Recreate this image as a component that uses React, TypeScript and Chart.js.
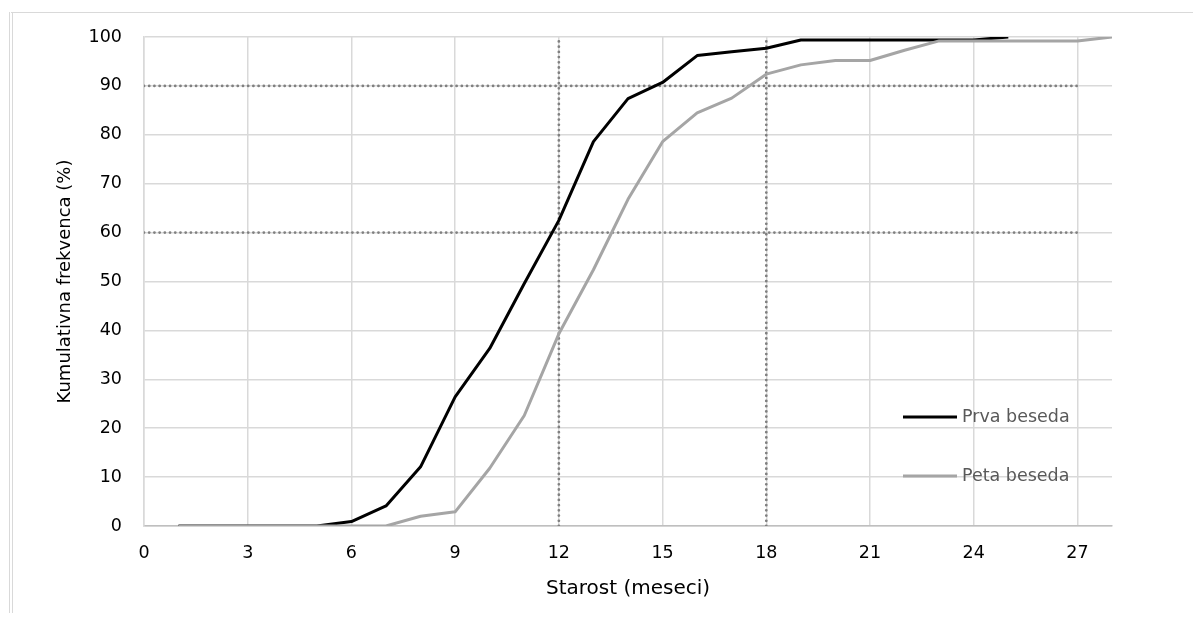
import React, { useEffect, useRef } from "react";
import { Chart, registerables } from "chart.js";

Chart.register(...registerables);

const months = [1, 2, 3, 4, 5, 6, 7, 8, 9, 10, 11, 12, 13, 14, 15, 16, 17, 18, 19, 20, 21, 22, 23, 24, 25, 26, 27, 28];
const prvaBeseda = [0, 0, 0, 0, 0, 0.9, 4.1, 12.1, 26.4, 36.3, 49.6, 62.5, 78.6, 87.4, 90.7, 96.2, 97.0, 97.7, 99.4, 99.4, 99.4, 99.4, 99.4, 99.4, 100, null, null, null];
const petaBeseda = [0, 0, 0, 0, 0, 0, 0, 2.0, 2.9, 11.8, 22.6, 39.3, 52.4, 66.8, 78.6, 84.5, 87.5, 92.4, 94.3, 95.2, 95.2, 97.3, 99.2, 99.2, 99.2, 99.2, 99.2, 100];
const seriesNames = ["Prva beseda", "Peta beseda"];
const seriesColors = ["#000000", "#a5a5a5"];

const refHorizontal = [60, 90];
const refVertical = [12, 18];
const refXRange = [0, 27];
const refYRange = [0, 100];

const xTickStep = 3;
const xMin = 0;
const xMax = 28;
const yMin = 0;
const yMax = 100;
const yTickStep = 10;

const xTitle = "Starost (meseci)";
const yTitle = "Kumulativna frekvenca (%)";

const FONT = "'DejaVu Sans', 'Open Sans', sans-serif";

const legendPlugin = {
  id: "insideLegend",
  afterDatasetsDraw(chart: any) {
    const { ctx, chartArea } = chart;
    const x0 = chartArea.right - 209;
    const ys = [chartArea.bottom - 109, chartArea.bottom - 50];
    ctx.save();
    seriesNames.forEach((name, i) => {
      const y = ys[i];
      ctx.strokeStyle = seriesColors[i];
      ctx.lineWidth = 3;
      ctx.lineCap = "butt";
      ctx.beginPath();
      ctx.moveTo(x0, y);
      ctx.lineTo(x0 + 54, y);
      ctx.stroke();
      ctx.fillStyle = "#595959";
      ctx.font = `17.5px ${FONT}`;
      ctx.textBaseline = "middle";
      ctx.textAlign = "left";
      ctx.fillText(name, x0 + 59, y);
    });
    ctx.restore();
  },
};

export default function App() {
  const canvasRef = useRef<HTMLCanvasElement | null>(null);

  useEffect(() => {
    if (!canvasRef.current) return;
    const dotted = {
      borderColor: "#808080",
      borderWidth: 2.8,
      borderDash: [0.01, 5.2],
      borderCapStyle: "round" as const,
      pointRadius: 0,
      fill: false,
      tension: 0,
      order: 2,
    };
    const refSets: any[] = [];
    refHorizontal.forEach((v) => {
      refSets.push({
        ...dotted,
        label: "ref-h-" + v,
        data: refXRange.map((x) => ({ x, y: v })),
      });
    });
    refVertical.forEach((v) => {
      refSets.push({
        ...dotted,
        label: "ref-v-" + v,
        data: refYRange.map((y) => ({ x: v, y })),
      });
    });

    const chart = new Chart(canvasRef.current, {
      type: "line",
      data: {
        datasets: [
          {
            label: seriesNames[1],
            data: months.map((m, i) => ({ x: m, y: petaBeseda[i] })),
            borderColor: seriesColors[1],
            borderWidth: 3,
            pointRadius: 0,
            tension: 0,
            order: 0,
            borderJoinStyle: "round",
          },
          {
            label: seriesNames[0],
            data: months.map((m, i) => ({ x: m, y: prvaBeseda[i] })),
            borderColor: seriesColors[0],
            borderWidth: 3,
            pointRadius: 0,
            tension: 0,
            order: 1,
            spanGaps: false,
            borderJoinStyle: "round",
          },
          ...refSets,
        ],
      },
      options: {
        animation: false,
        responsive: true,
        maintainAspectRatio: false,
        layout: { padding: { top: 29, right: 81, left: 0, bottom: 0 } },
        plugins: {
          legend: { display: false },
          tooltip: { enabled: false },
        },
        scales: {
          x: {
            type: "linear",
            min: xMin,
            max: xMax,
            ticks: {
              stepSize: xTickStep,
              color: "#000000",
              font: { family: FONT, size: 17.5 },
              padding: 17,
              maxRotation: 0,
            },
            afterBuildTicks: (scale: any) => {
              scale.ticks = scale.ticks.filter((t: any) => t.value % xTickStep === 0);
            },
            afterFit: (scale: any) => {
              scale.height = 87;
            },
            grid: { color: "#d9d9d9", lineWidth: 1.5, drawTicks: false },
            border: { color: "#bfbfbf", width: 1.5 },
            title: {
              display: true,
              text: xTitle,
              color: "#000000",
              font: { family: FONT, size: 20 },
              padding: { top: 0, bottom: 12 },
            },
          },
          y: {
            type: "linear",
            min: yMin,
            max: yMax,
            ticks: {
              stepSize: yTickStep,
              color: "#000000",
              font: { family: FONT, size: 17.5 },
              padding: 22,
            },
            afterFit: (scale: any) => {
              scale.width = 136;
              scale.paddingTop = 0;
              scale.paddingBottom = 0;
            },
            grid: { color: "#d9d9d9", lineWidth: 1.5, drawTicks: false },
            border: { color: "#d9d9d9", width: 1.5 },
            title: {
              display: true,
              text: yTitle,
              color: "#000000",
              font: { family: FONT, size: 18 },
              padding: { top: 47, bottom: 0 },
            },
          },
        },
      },
      plugins: [legendPlugin],
    });
    return () => chart.destroy();
  }, []);

  return (
    <div style={{ position: "relative", width: 1185, height: 605, background: "#ffffff" }}>
      <div
        style={{
          position: "absolute",
          left: 1,
          top: 4,
          right: -8,
          bottom: -8,
          borderTop: "1.5px solid #d9d9d9",
          borderLeft: "4px double #d9d9d9",
          pointerEvents: "none",
        }}
      />
      <div style={{ position: "absolute", left: 0, top: 0, width: 1185, height: 605 }}>
        <canvas ref={canvasRef} />
      </div>
    </div>
  );
}
